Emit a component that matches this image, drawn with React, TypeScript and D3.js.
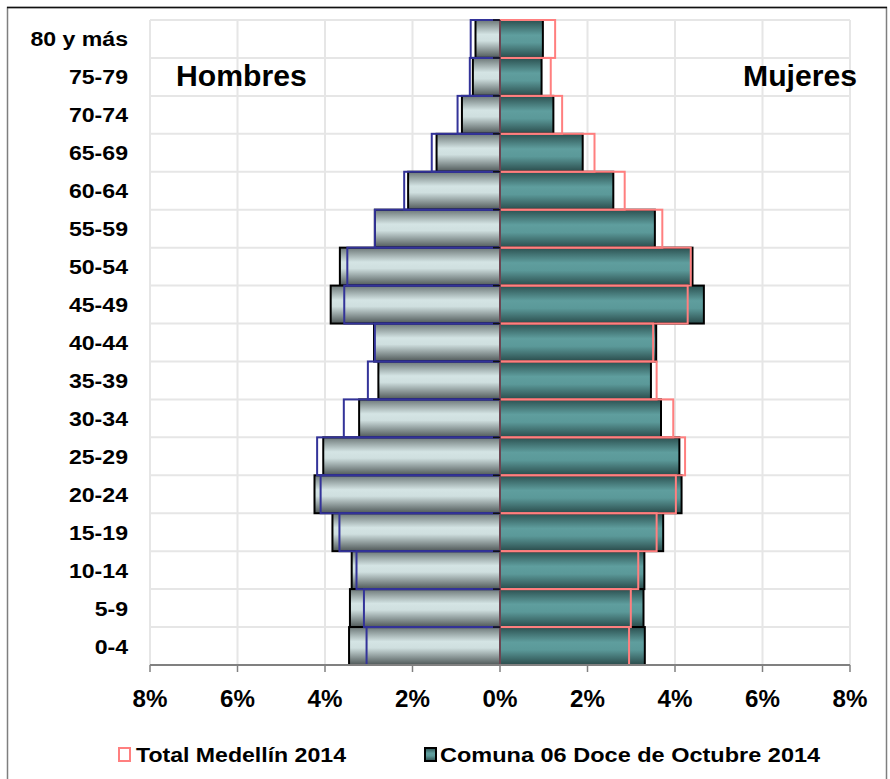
import React from 'react';
import * as d3 from 'd3';

const categories = ['80 y más', '75-79', '70-74', '65-69', '60-64', '55-59', '50-54', '45-49', '40-44', '35-39', '30-34', '25-29', '20-24', '15-19', '10-14', '5-9', '0-4'];
const hombresComuna = [0.56, 0.62, 0.87, 1.45, 2.1, 2.86, 3.66, 3.87, 2.88, 2.78, 3.22, 4.04, 4.24, 3.83, 3.39, 3.43, 3.45];
const hombresTotal = [0.67, 0.69, 0.97, 1.56, 2.19, 2.86, 3.49, 3.56, 2.86, 3.02, 3.57, 4.18, 4.1, 3.67, 3.28, 3.11, 3.05];
const mujeresComuna = [0.98, 0.95, 1.22, 1.89, 2.59, 3.54, 4.4, 4.66, 3.57, 3.45, 3.68, 4.1, 4.15, 3.73, 3.3, 3.28, 3.31];
const mujeresTotal = [1.26, 1.16, 1.42, 2.16, 2.85, 3.71, 4.36, 4.29, 3.5, 3.58, 3.96, 4.23, 4.02, 3.58, 3.16, 2.99, 2.95];
const xTicks = [-8, -6, -4, -2, 0, 2, 4, 6, 8];

const W = 890;
const H = 779;
const FONT = 'Liberation Sans, Arial, sans-serif';

// bold text, slightly stretched sideways like the source image
const Label: React.FC<{ x: number; y: number; size: number; sx?: number; anchor?: string; children: React.ReactNode }> =
  ({ x, y, size, sx = 1, anchor = 'start', children }) => (
    <text transform={`translate(${x},${y}) scale(${sx},1)`} textAnchor={anchor}
      fontFamily={FONT} fontWeight="bold" fontSize={size} fill="#000">{children}</text>
  );

const App: React.FC = () => {
  const x = d3.scaleLinear().domain([-8, 8]).range([150, 850]);
  const y = d3.scaleBand<string>().domain(categories).range([20, 665]).padding(0);
  const bw = y.bandwidth();
  const x0 = x(0);

  return (
    <div style={{ position: 'absolute', left: 0, top: 0 }}>
      <svg width={W} height={H} style={{ display: 'block', background: '#fff' }}>
        <defs>
          <linearGradient id="grad-h" x1="0" y1="0" x2="0" y2="1">
            <stop offset="0%" stopColor="#6c7777" />
            <stop offset="38%" stopColor="#d4e4e4" />
            <stop offset="55%" stopColor="#cfdfdf" />
            <stop offset="100%" stopColor="#4e5757" />
          </linearGradient>
          <linearGradient id="grad-m" x1="0" y1="0" x2="0" y2="1">
            <stop offset="0%" stopColor="#2b5050" />
            <stop offset="40%" stopColor="#5f9e9e" />
            <stop offset="60%" stopColor="#5b9999" />
            <stop offset="100%" stopColor="#2a4b4b" />
          </linearGradient>
        </defs>

        {/* frame */}
        <path d={`M7.5,${H + 2} V7.5 H886.5 V${H + 2}`} fill="none" stroke="#7f7f7f" strokeWidth={1.5} />
        <line x1={7} x2={887} y1={7.5} y2={7.5} stroke="#111" strokeWidth={1.5} />

        {/* grid */}
        {xTicks.map(t => (
          <line key={'gx' + t} x1={x(t)} x2={x(t)} y1={20} y2={665} stroke="#e6e6e6" strokeWidth={2} />
        ))}
        {categories.map(c => (
          <line key={'gy' + c} x1={150} x2={850} y1={y(c)} y2={y(c)} stroke="#e6e6e6" strokeWidth={2} />
        ))}

        {/* comuna bars */}
        {categories.map((c, i) => (
          <rect key={'hc' + c} x={x(-hombresComuna[i])} y={y(c)} width={x0 - x(-hombresComuna[i])} height={bw}
            fill="url(#grad-h)" stroke="#000" strokeWidth={2} />
        ))}
        {categories.map((c, i) => (
          <rect key={'mc' + c} x={x0} y={y(c)} width={x(mujeresComuna[i]) - x0} height={bw}
            fill="url(#grad-m)" stroke="#000" strokeWidth={2} />
        ))}

        {/* total Medellín outlines */}
        {categories.map((c, i) => (
          <rect key={'ht' + c} x={x(-hombresTotal[i])} y={y(c)} width={x0 - x(-hombresTotal[i])} height={bw}
            fill="none" stroke="#333399" strokeWidth={2} />
        ))}
        {categories.map((c, i) => (
          <rect key={'mt' + c} x={x0} y={y(c)} width={x(mujeresTotal[i]) - x0} height={bw}
            fill="none" stroke="#ff7f7f" strokeWidth={2} />
        ))}

        {/* vertical axis at 0 */}
        <line x1={x0} x2={x0} y1={20} y2={665} stroke="#6b4652" strokeWidth={2} />
        {categories.map(c => (
          <line key={'yt' + c} x1={x0 - 7} x2={x0} y1={y(c)} y2={y(c)} stroke="#111" strokeWidth={1.5} />
        ))}

        {/* bottom axis */}
        <line x1={150} x2={850} y1={665} y2={665} stroke="#808080" strokeWidth={2} />
        {xTicks.map(t => (
          <g key={'xt' + t}>
            <line x1={x(t)} x2={x(t)} y1={665} y2={672} stroke="#808080" strokeWidth={1.5} />
            <Label x={x(t)} y={707} size={23} sx={1.05} anchor="middle">{Math.abs(t) + '%'}</Label>
          </g>
        ))}

        {/* category labels */}
        {categories.map(c => (
          <Label key={'cl' + c} x={128} y={(y(c) as number) + bw / 2 + 7.5} size={21} sx={1.1} anchor="end">{c}</Label>
        ))}

        <Label x={176} y={86} size={29} sx={1.04}>Hombres</Label>
        <Label x={857} y={86} size={29} sx={1.04} anchor="end">Mujeres</Label>

        {/* legend */}
        <rect x={119} y={748} width={11} height={13} fill="#fff" stroke="#ff7f7f" strokeWidth={2} />
        <Label x={136} y={762} size={21} sx={1.1}>Total Medellín 2014</Label>
        <rect x={425} y={748} width={11} height={13} fill="url(#grad-m)" stroke="#000" strokeWidth={2} />
        <Label x={440} y={762} size={21} sx={1.12}>Comuna 06 Doce de Octubre 2014</Label>
      </svg>
    </div>
  );
};

export default App;
